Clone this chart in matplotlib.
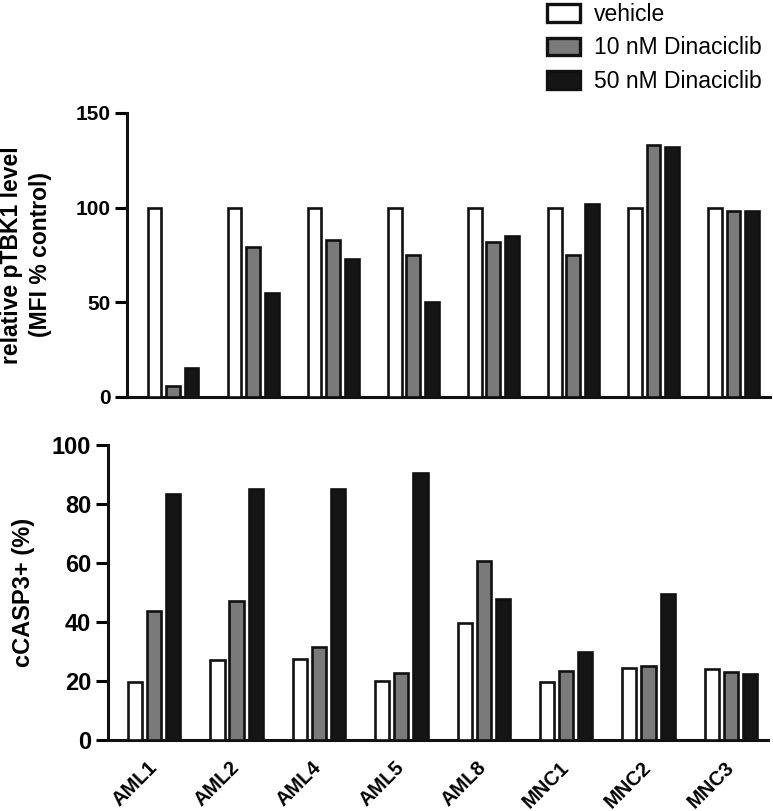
import numpy as np
import matplotlib
matplotlib.use("Agg")
import matplotlib.pyplot as plt
import matplotlib.transforms as mtransforms

plt.rcParams['font.family'] = ['Liberation Sans', 'DejaVu Sans']

samples = ['AML1', 'AML2', 'AML4', 'AML5', 'AML8', 'MNC1', 'MNC2', 'MNC3']
treatments = ['vehicle', '10 nM Dinaciclib', '50 nM Dinaciclib']
colors = ['#ffffff', '#7a7a7a', '#151515']

# relative pTBK1 level (MFI % control)
ptbk1_vehicle = [100, 100, 100, 100, 100, 100, 100, 100]
ptbk1_10nm = [6, 79, 83, 75, 82, 75, 133, 98]
ptbk1_50nm = [15.5, 55, 73, 50, 85, 102, 132, 98]

# cCASP3+ (%)
casp3_vehicle = [19.5, 27, 27.3, 20, 39.5, 19.5, 24.3, 24]
casp3_10nm = [43.7, 47, 31.4, 22.6, 60.8, 23.5, 25, 23.2]
casp3_50nm = [83.3, 85, 85, 90.5, 47.7, 30, 49.5, 22.4]

W, H = 773, 811
fig = plt.figure(figsize=(W / 100, H / 100), dpi=100)


def px_axes(left, top, right, bottom):
    return fig.add_axes([left / W, 1 - bottom / H, (right - left) / W, (bottom - top) / H])


def draw_bars(ax, series, ticksize):
    x = np.arange(len(samples))
    handles = []
    for k, vals in enumerate(series):
        b = ax.bar(x + (k - 1) * 0.232, vals, width=0.172, color=colors[k],
                   edgecolor='#111111', linewidth=1.9, label=treatments[k], zorder=3)
        handles.append(b)
    for side in ['top', 'right']:
        ax.spines[side].set_visible(False)
    for side in ['left', 'bottom']:
        ax.spines[side].set_linewidth(2.2)
        ax.spines[side].set_color('#111111')
    ax.tick_params(axis='y', direction='out', length=9, width=2.2, labelsize=ticksize, pad=3)
    return handles


# top panel
ax1 = px_axes(127, 113, 770, 397)
handles = draw_bars(ax1, [ptbk1_vehicle, ptbk1_10nm, ptbk1_50nm], 15)
ax1.set_xlim(-0.575, 7.456)
ax1.set_ylim(0, 150)
ax1.set_yticks([0, 50, 100, 150])
for lab in ax1.get_yticklabels():
    lab.set_fontweight('bold')
ax1.set_xticks([])
ax1.set_ylabel('relative pTBK1 level\n(MFI % control)', fontsize=16.5, fontweight='bold',
               labelpad=17, linespacing=1.32)

# bottom panel
ax2 = px_axes(108, 445, 768, 740)
draw_bars(ax2, [casp3_vehicle, casp3_10nm, casp3_50nm], 17)
ax2.set_xlim(-0.56, 7.45)
ax2.set_ylim(0, 100)
ax2.set_yticks([0, 20, 40, 60, 80, 100])
for lab in ax2.get_yticklabels():
    lab.set_fontweight('bold')
ax2.set_xticks(np.arange(len(samples)))
ax2.set_xticklabels(samples, rotation=45, ha='right', rotation_mode='anchor',
                    fontsize=14.5, fontweight='bold')
ax2.tick_params(axis='x', length=0, pad=13)
shift = mtransforms.ScaledTranslation(-7 / 100, 0, fig.dpi_scale_trans)
for lab in ax2.get_xticklabels():
    lab.set_transform(lab.get_transform() + shift)
ax2.set_ylabel('cCASP3+ (%)', fontsize=17, fontweight='bold', labelpad=12)

leg = fig.legend(handles, treatments, loc='upper left', bbox_to_anchor=(538 / W, 1 + 6 / H),
                 frameon=False, fontsize=16.5, handlelength=1.45, handleheight=0.8,
                 labelspacing=0.45, handletextpad=0.6, borderaxespad=0)
for p in leg.get_patches():
    p.set_linewidth(2.4)

fig.savefig('out.png', dpi=100)
